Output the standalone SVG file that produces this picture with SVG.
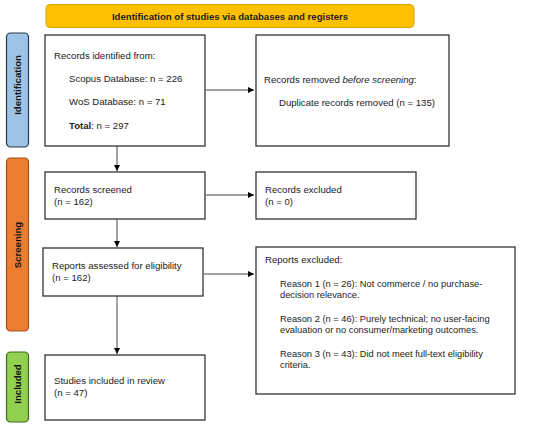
<svg xmlns="http://www.w3.org/2000/svg" width="550" height="427" viewBox="0 0 550 427">
<defs>
<marker id="ah" viewBox="0 0 10 10" refX="10" refY="5" markerWidth="6" markerHeight="6" orient="auto" markerUnits="userSpaceOnUse">
<path d="M0,0 L10,5 L0,10 z" fill="#000"/>
</marker>
<style>
.box{fill:#fff;stroke:#333;stroke-width:1.3}
.t{font-family:"Liberation Sans",Arial,sans-serif;font-size:9.6px;fill:#222}
.r{font-size:9.3px}
.b{font-weight:bold}
.side{font-family:"Liberation Sans",Arial,sans-serif;font-size:9.6px;font-weight:bold;fill:#111;text-anchor:middle}
.c{stroke:#444;stroke-width:1;fill:none;marker-end:url(#ah)}
</style>
</defs>
<rect width="550" height="427" fill="#fff"/>
<g id="header">
<rect x="46" y="4.5" width="368" height="23" rx="4" fill="#FFC000" stroke="#D9A300" stroke-width="1"/>
<text class="t b" x="230" y="19.5" text-anchor="middle">Identification of studies via databases and registers</text>
</g>
<g id="phase-identification">
<rect x="6.5" y="33" width="22" height="114" rx="4" fill="#9DC3E6" stroke="#2A3A4A" stroke-width="1.2"/>
<text class="side" transform="translate(21,85) rotate(-90)">Identification</text>
</g>
<g id="phase-screening">
<rect x="6.5" y="158" width="22" height="173" rx="4" fill="#ED7D31" stroke="#A0521E" stroke-width="1.2"/>
<text class="side" transform="translate(21,245) rotate(-90)">Screening</text>
</g>
<g id="phase-included">
<rect x="6.5" y="352" width="22" height="70" rx="4" fill="#92D050" stroke="#3E6B1E" stroke-width="1.2"/>
<text class="side" transform="translate(21,384) rotate(-90)">Included</text>
</g>
<g id="records-identified">
<rect class="box" x="45" y="35" width="160" height="111"/>
<text class="t" x="54" y="59">Records identified from:</text>
<text class="t" x="69" y="82">Scopus Database: n = 226</text>
<text class="t" x="69" y="105">WoS Database: n = 71</text>
<text class="t" x="69" y="129"><tspan class="b">Total</tspan>: n = 297</text>
</g>
<g id="records-removed">
<rect class="box" x="256" y="35" width="193" height="111"/>
<text class="t" x="264" y="83">Records removed <tspan font-style="italic">before screening</tspan>:</text>
<text class="t" x="279" y="106">Duplicate records removed (n = 135)</text>
</g>
<g id="records-screened">
<rect class="box" x="45" y="172" width="160" height="47"/>
<text class="t" x="54" y="193">Records screened</text>
<text class="t" x="54" y="205">(n = 162)</text>
</g>
<g id="records-excluded">
<rect class="box" x="256" y="172" width="160" height="47"/>
<text class="t" x="265" y="193">Records excluded</text>
<text class="t" x="265" y="205">(n = 0)</text>
</g>
<g id="reports-assessed">
<rect class="box" x="43" y="248" width="160" height="48"/>
<text class="t" x="52" y="269">Reports assessed for eligibility</text>
<text class="t" x="52" y="281">(n = 162)</text>
</g>
<g id="reports-excluded">
<rect class="box" x="256" y="247" width="259" height="147"/>
<text class="t" x="265" y="263">Reports excluded:</text>
<text class="t r" x="280" y="287">Reason 1 (n = 26): Not commerce / no purchase-</text>
<text class="t r" x="280" y="298">decision relevance.</text>
<text class="t r" x="280" y="322">Reason 2 (n = 46): Purely technical; no user-facing</text>
<text class="t r" x="280" y="333">evaluation or no consumer/marketing outcomes.</text>
<text class="t r" x="280" y="357">Reason 3 (n = 43): Did not meet full-text eligibility</text>
<text class="t r" x="280" y="368">criteria.</text>
</g>
<g id="studies-included">
<rect class="box" x="45" y="355" width="160" height="65"/>
<text class="t" x="54" y="384">Studies included in review</text>
<text class="t" x="54" y="396">(n = 47)</text>
</g>
<g id="connectors">
<line class="c" x1="206" y1="90" x2="254" y2="90"/>
<line class="c" x1="117" y1="146" x2="117" y2="171"/>
<line class="c" x1="206" y1="195" x2="254" y2="195"/>
<line class="c" x1="117" y1="219" x2="117" y2="247"/>
<line class="c" x1="204" y1="274" x2="254" y2="274"/>
<line class="c" x1="117" y1="296" x2="117" y2="354"/>
</g>
</svg>
